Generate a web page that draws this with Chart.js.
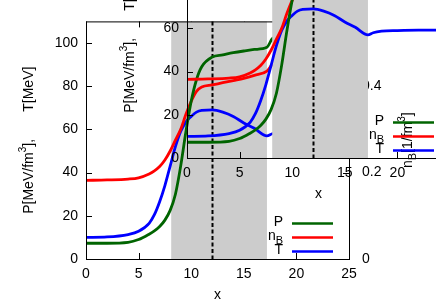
<!DOCTYPE html>
<html>
<head>
<meta charset="utf-8">
<script src="https://cdn.jsdelivr.net/npm/chart.js@4.4.1/dist/chart.umd.min.js"></script>
<style>
html, body { margin: 0; padding: 0; background: #fff; overflow: hidden; }
#wrap { position: relative; width: 436px; height: 305px; overflow: hidden; }
.box { position: absolute; width: 436px; height: 305px; }
#mainBox { left: 0; top: 0; }
#insetBox { left: 101px; top: -101px; }
</style>
</head>
<body>
<div id="wrap">
  <div class="box" id="mainBox"><canvas id="mainChart" width="436" height="305"></canvas></div>
  <div class="box" id="insetBox"><canvas id="insetChart" width="436" height="305"></canvas></div>
</div>
<script>
// data
const xs     = [0, 2, 4, 5, 6, 6.5, 7, 7.5, 8, 8.5, 9, 9.5, 10, 10.5, 11, 12, 13, 14, 15, 16, 17.2, 17.7, 18.5, 20, 22, 25];
const pVals  = [7.3, 7.3, 7.7, 9, 11.5, 13, 15, 18, 22.5, 30, 43, 59, 73, 83, 89, 93.5, 94.5, 95.5, 96.3, 97, 98, 102, 104, 106, 108, 110];
const nbVals = [0.182, 0.183, 0.185, 0.188, 0.197, 0.204, 0.214, 0.229, 0.25, 0.275, 0.30, 0.335, 0.365, 0.388, 0.398, 0.403, 0.408, 0.413, 0.418, 0.425, 0.435, 0.45, 0.46, 0.475, 0.49, 0.51];
const tVals  = [10, 10.2, 11.3, 12.8, 16.5, 20.5, 26.5, 34, 43, 52, 59, 63.5, 66, 68, 68.8, 69, 68, 66, 63, 60.5, 57, 58, 58.7, 59, 59.2, 59.2];

const xTicks  = [0, 5, 10, 15, 20, 25];
const yTicks  = [0, 20, 40, 60, 80, 100];
const y2Ticks = [0, 0.2, 0.4];

const bandX = [8.1, 17.2];  // shaded region
const markX = 12;           // dashed marker

const FONT = '"Liberation Sans", Arial, sans-serif';

function richText(ctx, parts, cx, cy, angle, align) {
    ctx.save();
    ctx.translate(cx, cy);
    ctx.rotate(angle);
    let total = 0;
    parts.forEach(p => {
        ctx.font = (p.size || 14) + 'px ' + FONT;
        p.w = ctx.measureText(p.t).width;
        total += p.w;
    });
    let xx = align === 'right' ? -total : -total / 2;
    ctx.textBaseline = 'middle';
    ctx.textAlign = 'left';
    ctx.fillStyle = '#000';
    parts.forEach(p => {
        ctx.font = (p.size || 14) + 'px ' + FONT;
        ctx.fillText(p.t, xx, p.dy || 0);
        xx += p.w;
    });
    ctx.restore();
}

const decor = {
    id: 'decor',
    beforeDatasetsDraw(chart) {
        const { ctx, chartArea: a, scales } = chart;
        const x = scales.x, y = scales.y, y2 = scales.y2;
        ctx.save();
        // inward ticks
        ctx.strokeStyle = '#000';
        ctx.lineWidth = 1;
        ctx.beginPath();
        xTicks.forEach(v => {
            const px = Math.round(x.getPixelForValue(v)) + 0.5;
            ctx.moveTo(px, a.bottom); ctx.lineTo(px, a.bottom - 6);
            ctx.moveTo(px, a.top); ctx.lineTo(px, a.top + 6);
        });
        yTicks.forEach(v => {
            const py = Math.round(y.getPixelForValue(v)) + 0.5;
            ctx.moveTo(a.left, py); ctx.lineTo(a.left + 6, py);
        });
        y2Ticks.forEach(v => {
            const py = Math.round(y2.getPixelForValue(v)) + 0.5;
            ctx.moveTo(a.right, py); ctx.lineTo(a.right - 6, py);
        });
        ctx.stroke();

        // grey band
        const x0 = x.getPixelForValue(bandX[0]);
        const x1 = x.getPixelForValue(bandX[1]);
        ctx.fillStyle = '#cccccc';
        ctx.fillRect(x0, a.top, x1 - x0, a.bottom - a.top);

        // dashed line
        const mx = Math.round(x.getPixelForValue(markX)) + 0.5;
        ctx.setLineDash([4, 2.5]);
        ctx.lineWidth = 2;
        ctx.beginPath();
        ctx.moveTo(mx, a.top); ctx.lineTo(mx, a.bottom);
        ctx.stroke();
        ctx.restore();
    },
    afterDatasetsDraw(chart) {
        const { ctx, chartArea: a } = chart;
        ctx.save();
        // frame
        ctx.strokeStyle = '#000';
        ctx.lineWidth = 1;
        ctx.strokeRect(a.left + 0.5, a.top + 0.5, a.right - a.left, a.bottom - a.top);

        // key
        const rows = [
            { parts: [{ t: 'P' }], color: '#006400' },
            { parts: [{ t: 'n' }, { t: 'B', size: 11, dy: 5 }], color: '#ff0000' },
            { parts: [{ t: 'T' }], color: '#0000ff' }
        ];
        rows.forEach((r, i) => {
            const ly = a.top + 202 + i * 14;
            richText(ctx, r.parts, a.left + 197, ly - 1.5, 0, 'right');
            ctx.strokeStyle = r.color;
            ctx.lineWidth = 2.5;
            ctx.beginPath();
            ctx.moveTo(a.left + 206, ly); ctx.lineTo(a.left + 247, ly);
            ctx.stroke();
        });

        // axis titles
        richText(ctx, [{ t: 'x' }], (a.left + a.right) / 2, a.bottom + 36, 0);
        richText(ctx, [{ t: 'P[MeV/fm' }, { t: '3', size: 10, dy: -6 }, { t: '],       T[MeV]' }],
            a.left - 57, (a.top + a.bottom) / 2, -Math.PI / 2);
        richText(ctx, [{ t: 'n' }, { t: 'B', size: 11, dy: 5 }, { t: '[1/fm' }, { t: '3', size: 10, dy: -6 }, { t: ']' }],
            a.right + 59, (a.top + a.bottom) / 2, -Math.PI / 2);
        ctx.restore();
    }
};

function pts(vals) {
    return xs.map((x, i) => ({ x: x, y: vals[i] }));
}

function tickFont() {
    return { family: FONT, size: 14 };
}

function makeConfig() {
    return {
        type: 'line',
        data: {
            datasets: [
                { label: 'P', data: pts(pVals), borderColor: '#006400', yAxisID: 'y' },
                { label: 'nB', data: pts(nbVals), borderColor: '#ff0000', yAxisID: 'y2' },
                { label: 'T', data: pts(tVals), borderColor: '#0000ff', yAxisID: 'y' }
            ]
        },
        options: {
            responsive: false,
            animation: false,
            devicePixelRatio: 1,
            layout: { padding: { top: 16, left: 0, right: 0, bottom: 0 } },
            elements: {
                point: { radius: 0 },
                line: { borderWidth: 2.8, tension: 0.4, cubicInterpolationMode: 'monotone', fill: false }
            },
            plugins: { legend: { display: false }, tooltip: { enabled: false } },
            scales: {
                x: {
                    type: 'linear', position: 'bottom', min: 0, max: 25,
                    grid: { display: false, drawTicks: false },
                    border: { display: false },
                    ticks: { font: tickFont(), color: '#000', padding: 7, maxRotation: 0 },
                    afterBuildTicks: s => { s.ticks = xTicks.map(v => ({ value: v })); },
                    afterFit: s => { s.height = 46; }
                },
                y: {
                    type: 'linear', position: 'left', min: 0, max: 110,
                    grid: { display: false, drawTicks: false },
                    border: { display: false },
                    ticks: { font: tickFont(), color: '#000', padding: 8 },
                    afterBuildTicks: s => { s.ticks = yTicks.map(v => ({ value: v })); },
                    afterFit: s => { s.width = 86; }
                },
                y2: {
                    type: 'linear', position: 'right', min: 0, max: 0.55,
                    grid: { display: false, drawTicks: false },
                    border: { display: false },
                    ticks: { font: tickFont(), color: '#000', padding: 13, callback: v => String(v) },
                    afterBuildTicks: s => { s.ticks = y2Ticks.map(v => ({ value: v })); },
                    afterFit: s => { s.width = 87; }
                }
            }
        },
        plugins: [decor]
    };
}

new Chart(document.getElementById('mainChart'), makeConfig());
new Chart(document.getElementById('insetChart'), makeConfig());
</script>
</body>
</html>
